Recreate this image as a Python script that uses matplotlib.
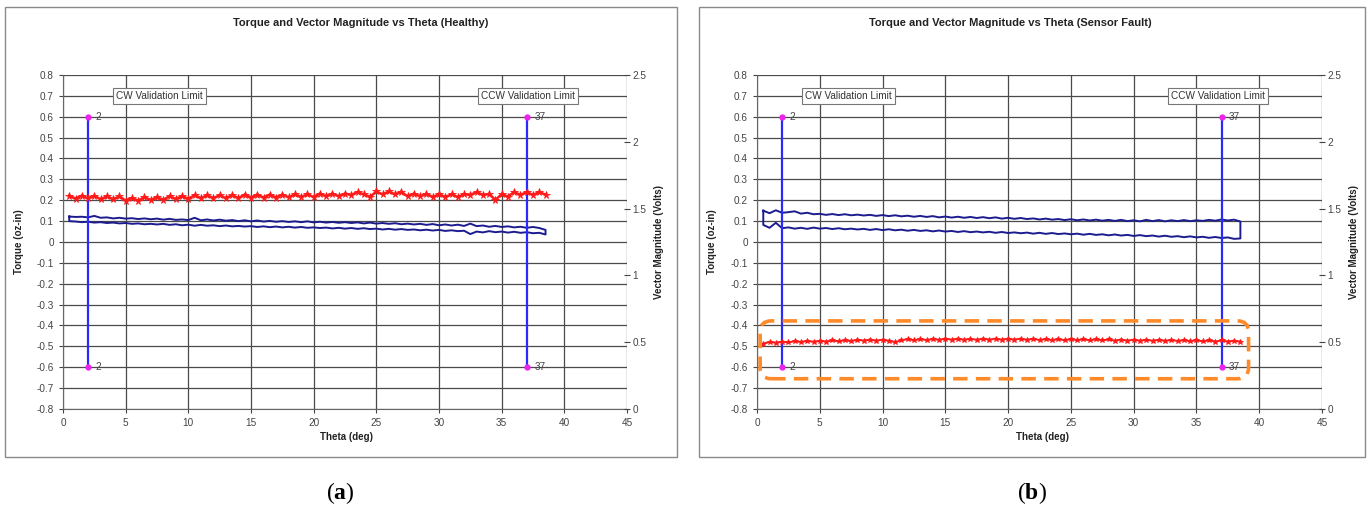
import numpy as np
import matplotlib
matplotlib.use('Agg')
from matplotlib import pyplot as plt
from matplotlib.patches import Rectangle, FancyBboxPatch
from matplotlib.transforms import IdentityTransform

plt.rcParams['font.family'] = ['Liberation Sans', 'DejaVu Sans']
plt.rcParams['mathtext.fontset'] = 'custom'
plt.rcParams['mathtext.rm'] = 'Liberation Serif'
plt.rcParams['mathtext.bf'] = 'Liberation Serif:bold'

# sample positions (deg)
theta = np.arange(0.5, 38.51, 0.5)

# healthy: vector magnitude (Volts), torque out / back (oz-in)
healthy_vm = [1.597, 1.575, 1.597, 1.576, 1.596, 1.570, 1.592, 1.570, 1.591, 1.560,
              1.580, 1.559, 1.586, 1.564, 1.586, 1.565, 1.594, 1.572, 1.594, 1.573,
              1.600, 1.578, 1.600, 1.578, 1.600, 1.578, 1.601, 1.579, 1.605, 1.583,
              1.605, 1.583, 1.605, 1.583, 1.605, 1.584, 1.608, 1.586, 1.608, 1.586,
              1.613, 1.591, 1.613, 1.591, 1.613, 1.602, 1.624, 1.606, 1.588, 1.628,
              1.606, 1.628, 1.606, 1.626, 1.591, 1.613, 1.591, 1.612, 1.586, 1.608,
              1.586, 1.608, 1.586, 1.608, 1.602, 1.624, 1.602, 1.610, 1.565, 1.608,
              1.590, 1.624, 1.602, 1.624, 1.602, 1.624, 1.604]
healthy_tq_out = [0.122, 0.120, 0.121, 0.118, 0.125, 0.116, 0.118, 0.113, 0.116, 0.112,
                  0.114, 0.110, 0.113, 0.109, 0.112, 0.107, 0.111, 0.106, 0.108, 0.105,
                  0.116, 0.104, 0.108, 0.103, 0.107, 0.102, 0.105, 0.100, 0.104, 0.099,
                  0.103, 0.098, 0.101, 0.097, 0.100, 0.096, 0.099, 0.095, 0.099, 0.094,
                  0.097, 0.093, 0.096, 0.092, 0.095, 0.091, 0.094, 0.089, 0.093, 0.088,
                  0.091, 0.087, 0.090, 0.085, 0.088, 0.084, 0.087, 0.082, 0.086, 0.080,
                  0.084, 0.079, 0.083, 0.077, 0.088, 0.076, 0.079, 0.073, 0.077, 0.072,
                  0.075, 0.070, 0.073, 0.068, 0.072, 0.067, 0.058]
healthy_tq_back = [0.100, 0.098, 0.095, 0.097, 0.093, 0.095, 0.091, 0.093, 0.089, 0.091,
                   0.087, 0.089, 0.085, 0.087, 0.084, 0.087, 0.082, 0.085, 0.080, 0.083,
                   0.078, 0.082, 0.078, 0.080, 0.076, 0.079, 0.075, 0.077, 0.074, 0.076,
                   0.072, 0.075, 0.071, 0.074, 0.070, 0.073, 0.069, 0.072, 0.068, 0.070,
                   0.067, 0.069, 0.065, 0.068, 0.064, 0.067, 0.063, 0.066, 0.062, 0.064,
                   0.060, 0.063, 0.059, 0.062, 0.058, 0.060, 0.056, 0.059, 0.055, 0.058,
                   0.053, 0.056, 0.052, 0.054, 0.038, 0.050, 0.046, 0.052, 0.047, 0.050,
                   0.045, 0.049, 0.044, 0.047, 0.042, 0.044, 0.036]

# sensor fault
fault_vm = [0.489, 0.503, 0.496, 0.505, 0.498, 0.508, 0.501, 0.510, 0.503, 0.511,
            0.505, 0.513, 0.506, 0.515, 0.508, 0.519, 0.512, 0.520, 0.512, 0.519,
            0.510, 0.501, 0.514, 0.523, 0.515, 0.523, 0.516, 0.524, 0.518, 0.527,
            0.519, 0.527, 0.518, 0.526, 0.518, 0.527, 0.519, 0.527, 0.519, 0.527,
            0.519, 0.527, 0.518, 0.526, 0.516, 0.524, 0.515, 0.523, 0.515, 0.523,
            0.515, 0.522, 0.514, 0.522, 0.513, 0.521, 0.512, 0.520, 0.512, 0.519,
            0.511, 0.519, 0.511, 0.518, 0.510, 0.517, 0.509, 0.516, 0.507, 0.515,
            0.506, 0.514, 0.505, 0.513, 0.505, 0.512, 0.504]
fault_tq_out = [0.150, 0.138, 0.152, 0.140, 0.143, 0.147, 0.136, 0.140, 0.133, 0.135,
                0.130, 0.134, 0.129, 0.133, 0.128, 0.131, 0.127, 0.130, 0.125, 0.129,
                0.124, 0.128, 0.123, 0.126, 0.121, 0.125, 0.120, 0.124, 0.118, 0.122,
                0.117, 0.121, 0.116, 0.120, 0.115, 0.119, 0.114, 0.118, 0.112, 0.116,
                0.111, 0.115, 0.110, 0.113, 0.108, 0.112, 0.107, 0.110, 0.105, 0.109,
                0.104, 0.108, 0.103, 0.107, 0.102, 0.106, 0.101, 0.106, 0.100, 0.104,
                0.099, 0.106, 0.100, 0.105, 0.099, 0.104, 0.100, 0.105, 0.100, 0.104,
                0.101, 0.106, 0.102, 0.108, 0.103, 0.107, 0.098]
fault_tq_back = [0.082, 0.068, 0.092, 0.066, 0.070, 0.064, 0.068, 0.063, 0.069, 0.064,
                 0.067, 0.062, 0.066, 0.061, 0.064, 0.060, 0.063, 0.058, 0.062, 0.057,
                 0.061, 0.056, 0.059, 0.054, 0.058, 0.053, 0.056, 0.051, 0.055, 0.050,
                 0.053, 0.048, 0.052, 0.047, 0.050, 0.046, 0.049, 0.044, 0.048, 0.043,
                 0.046, 0.042, 0.045, 0.040, 0.044, 0.039, 0.043, 0.038, 0.041, 0.037,
                 0.040, 0.035, 0.039, 0.034, 0.037, 0.032, 0.036, 0.031, 0.034, 0.029,
                 0.033, 0.028, 0.031, 0.026, 0.030, 0.025, 0.028, 0.023, 0.027, 0.022,
                 0.025, 0.020, 0.024, 0.019, 0.022, 0.015, 0.017]

limits = [2, 37]
limit_tq = [-0.6, 0.6]

W, H = 1368, 518
fig = plt.figure(figsize=(W / 100, H / 100), dpi=100)


def px(x0, y0, x1, y1):
    # pixel box -> figure fraction rect
    return [x0 / W, 1 - y1 / H, (x1 - x0) / W, (y1 - y0) / H]


def panel(ax_rect, frame, title, title_x, xlab_x, ylab_x, rlab_x,
          vm, tq_out, tq_back, cw_x, ccw_x, red_ms, red_lw):
    fig.add_artist(Rectangle((frame[0], frame[1]), frame[2], frame[3],
                             transform=fig.transFigure, fill=False,
                             ec='#8a8a8a', lw=1.0))
    ax = fig.add_axes(ax_rect)
    ax.set_xlim(0, 45)
    ax.set_ylim(-0.8, 0.8)
    ax.set_xticks(np.arange(0, 46, 5))
    yt = np.round(np.arange(-0.8, 0.81, 0.1), 1)
    ax.set_yticks(yt)
    ax.set_yticklabels(['0' if abs(v) < 1e-9 else f'{v:g}' for v in yt])
    ax.grid(True, color='#4a4a4a', lw=0.9)
    ax.set_axisbelow(True)
    for s in ['top', 'right']:
        ax.spines[s].set_visible(False)
    for s in ['left', 'bottom']:
        ax.spines[s].set_color('#666666')
    ax.tick_params(labelsize=7.2, colors='#444444', length=3, width=0.8)

    # validation limits
    for lx in limits:
        ax.plot([lx, lx], limit_tq, color='#2a2aff', lw=1.6, zorder=3)
        ax.plot([lx, lx], limit_tq, ls='none', marker='o', ms=3.5,
                color='#ee22ee', zorder=4)
        for ly in limit_tq:
            ax.text(lx + 0.6, ly, str(lx), fontsize=7.2, color='#444444',
                    va='center', ha='left')
    bb = dict(boxstyle='square,pad=0.3', fc='white', ec='#777777', lw=0.8)
    ax.text(cw_x, 0.7, 'CW Validation Limit', fontsize=7.2, ha='center',
            va='center', bbox=bb, color='#333333', zorder=5)
    ax.text(ccw_x, 0.7, 'CCW Validation Limit', fontsize=7.2, ha='center',
            va='center', bbox=bb, color='#333333', zorder=5)

    # torque hysteresis loop
    loop_x = list(theta) + list(theta[::-1]) + [theta[0]]
    loop_y = list(tq_out) + list(tq_back[::-1]) + [tq_out[0]]
    ax.plot(loop_x, loop_y, color='#1c1c8f', lw=1.4, zorder=2)

    ax2 = ax.twinx()
    ax2.set_ylim(0, 2.5)
    ax2.set_yticks([0, 0.5, 1, 1.5, 2, 2.5])
    ax2.set_yticklabels(['0', '0.5', '1', '1.5', '2', '2.5'])
    for s in ['top', 'left', 'bottom', 'right']:
        ax2.spines[s].set_visible(False)
    ax2.tick_params(labelsize=7.2, colors='#444444', direction='inout',
                    length=5, width=0.8, pad=1.5)
    ax2.plot(theta, vm, color='#ff1a1a', lw=red_lw, marker='*', ms=red_ms,
             mew=0.6, zorder=3)

    fig.text(title_x / W, 1 - 23 / H, title, fontsize=8, fontweight='bold',
             ha='center', va='center', color='#222222')
    fig.text(xlab_x / W, 1 - 437 / H, 'Theta (deg)', fontsize=7,
             fontweight='bold', ha='center', va='center', color='#222222')
    fig.text(ylab_x / W, 1 - 242 / H, 'Torque (oz-in)', fontsize=7,
             fontweight='bold', ha='center', va='center', rotation=90,
             color='#222222')
    fig.text(rlab_x / W, 1 - 242 / H, 'Vector Magnitude (Volts)', fontsize=7,
             fontweight='bold', ha='center', va='center', rotation=90,
             color='#222222')
    return ax, ax2


axA, axA2 = panel(px(63, 75, 627, 409), px(5, 7, 677, 457),
                  'Torque and Vector Magnitude vs Theta (Healthy)', 361, 346, 19, 659,
                  healthy_vm, healthy_tq_out, healthy_tq_back, 7.7, 37.1, 5.5, 1.8)
axB, axB2 = panel(px(757, 75, 1322, 409), px(699, 7, 1365, 457),
                  'Torque and Vector Magnitude vs Theta (Sensor Fault)', 1010, 1043, 712, 1354,
                  fault_vm, fault_tq_out, fault_tq_back, 7.3, 36.7, 4, 1.4)

# highlight around the faulty vector magnitude (built in pixel space so the
# rounded corners stay circular)
(hx0, hy0), (hx1, hy1) = axB.transData.transform([(0.25, -0.655), (39.15, -0.378)])
hl = FancyBboxPatch((hx0, hy0), hx1 - hx0, hy1 - hy0,
                    boxstyle='round,pad=0,rounding_size=11',
                    transform=IdentityTransform(),
                    fill=False, ec='#ff8a2a', lw=2.6, ls=(0, (4, 2.3)),
                    zorder=10, clip_on=False)
fig.add_artist(hl)

fig.text(340 / W, 1 - 493 / H, r'($\mathbf{a}$)', fontsize=17, ha='center',
         va='center', family='Liberation Serif')
fig.text(1032 / W, 1 - 493 / H, r'($\mathbf{b}$)', fontsize=17, ha='center',
         va='center', family='Liberation Serif')

fig.savefig('out.png', dpi=100)
